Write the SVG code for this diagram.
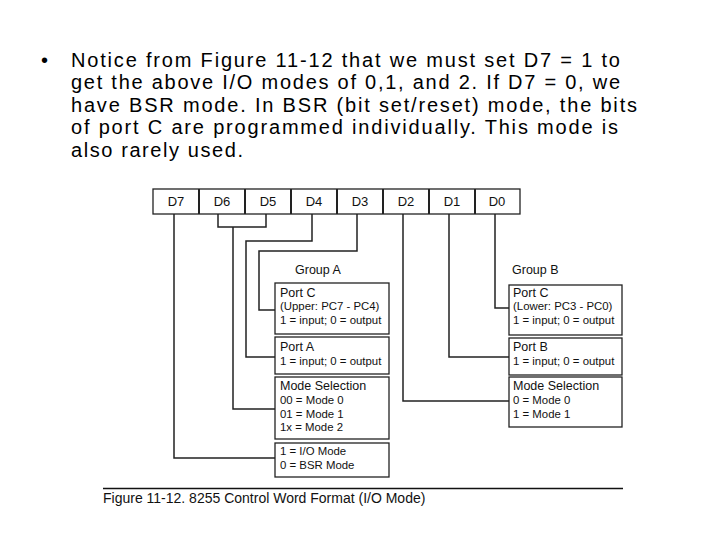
<svg xmlns="http://www.w3.org/2000/svg" width="720" height="540" viewBox="0 0 720 540">
<style>
.body{font-family:"Liberation Sans",Arial,sans-serif;font-size:20px;fill:#000}
.bit{font-family:"Liberation Sans",Arial,sans-serif;font-size:13px;fill:#111;text-anchor:middle}
.ttl{font-family:"Liberation Sans",Arial,sans-serif;font-size:12.5px;fill:#111}
.txt{font-family:"Liberation Sans",Arial,sans-serif;font-size:11.4px;fill:#111}
.cap{font-family:"Liberation Sans",Arial,sans-serif;font-size:14px;fill:#111}
.box{fill:#fff;stroke:#222;stroke-width:1.3}
.wire{fill:none;stroke:#222;stroke-width:1.5}
</style>
<rect width="720" height="540" fill="#fff"/>
<g id="bullet-text">
<text class="body" x="41" y="66.7">•</text>
<text class="body" x="71" y="66.7" textLength="549" lengthAdjust="spacing">Notice from Figure 11-12 that we must set D7 = 1 to</text>
<text class="body" x="71" y="89.3" textLength="549" lengthAdjust="spacing">get the above I/O modes of 0,1, and 2. If D7 = 0, we</text>
<text class="body" x="71" y="111.7" textLength="566" lengthAdjust="spacing">have BSR mode. In BSR (bit set/reset) mode, the bits</text>
<text class="body" x="71" y="134.3" textLength="547" lengthAdjust="spacing">of port C are programmed individually. This mode is</text>
<text class="body" x="71" y="156.7" textLength="172" lengthAdjust="spacing">also rarely used.</text>
</g>
<g id="control-word">
<rect class="box" x="153" y="189" width="367" height="25" stroke-width="1.6"/>
<path d="M199,189V214M245,189V214M291,189V214M337,189V214M383,189V214M429,189V214M475,189V214" stroke="#222" stroke-width="2" fill="none"/>
<text class="bit" x="176" y="206">D7</text>
<text class="bit" x="222" y="206">D6</text>
<text class="bit" x="268" y="206">D5</text>
<text class="bit" x="314" y="206">D4</text>
<text class="bit" x="360" y="206">D3</text>
<text class="bit" x="406" y="206">D2</text>
<text class="bit" x="452" y="206">D1</text>
<text class="bit" x="497" y="206">D0</text>
</g>
<g id="connectors">
<path class="wire" d="M174,214V458H275"/>
<path class="wire" d="M218,214V227H266V214"/>
<path class="wire" d="M233,227V409H275"/>
<path class="wire" d="M312,214V241H246V357H275"/>
<path class="wire" d="M357,214V251H259V310H275"/>
<path class="wire" d="M403,214V401H509"/>
<path class="wire" d="M449,214V357H509"/>
<path class="wire" d="M495,214V308H509"/>
</g>
<g id="group-a-label"><text class="ttl" x="295" y="274">Group A</text></g>
<g id="port-c-upper">
<rect class="box" x="275" y="283" width="114" height="51"/>
<text class="ttl" x="280" y="297">Port C</text>
<text class="txt" x="280" y="310">(Upper: PC7 - PC4)</text>
<text class="txt" x="280" y="323.5">1 = input; 0 = output</text>
</g>
<g id="port-a">
<rect class="box" x="275" y="337" width="114" height="37"/>
<text class="ttl" x="280" y="351">Port A</text>
<text class="txt" x="280" y="365">1 = input; 0 = output</text>
</g>
<g id="mode-sel-a">
<rect class="box" x="275" y="377" width="114" height="62"/>
<text class="ttl" x="280" y="390">Mode Selection</text>
<text class="txt" x="280" y="404">00 = Mode 0</text>
<text class="txt" x="280" y="417.5">01 = Mode 1</text>
<text class="txt" x="280" y="431">1x = Mode 2</text>
</g>
<g id="io-mode">
<rect class="box" x="275" y="443" width="114" height="34"/>
<text class="txt" x="280" y="454.5">1 = I/O Mode</text>
<text class="txt" x="280" y="468.5">0 = BSR Mode</text>
</g>
<g id="group-b-label"><text class="ttl" x="512" y="274">Group B</text></g>
<g id="port-c-lower">
<rect class="box" x="509" y="285" width="113" height="50"/>
<text class="ttl" x="513" y="297">Port C</text>
<text class="txt" x="513" y="310">(Lower: PC3 - PC0)</text>
<text class="txt" x="513" y="323.5">1 = input; 0 = output</text>
</g>
<g id="port-b">
<rect class="box" x="509" y="338" width="113" height="37"/>
<text class="ttl" x="513" y="351">Port B</text>
<text class="txt" x="513" y="365">1 = input; 0 = output</text>
</g>
<g id="mode-sel-b">
<rect class="box" x="509" y="377" width="113" height="50"/>
<text class="ttl" x="513" y="390">Mode Selection</text>
<text class="txt" x="513" y="404">0 = Mode 0</text>
<text class="txt" x="513" y="417.5">1 = Mode 1</text>
</g>
<g id="caption">
<path d="M103,488.5H623" stroke="#111" stroke-width="1.6"/>
<text class="cap" x="103" y="503">Figure 11-12. 8255 Control Word Format (I/O Mode)</text>
</g>
</svg>
